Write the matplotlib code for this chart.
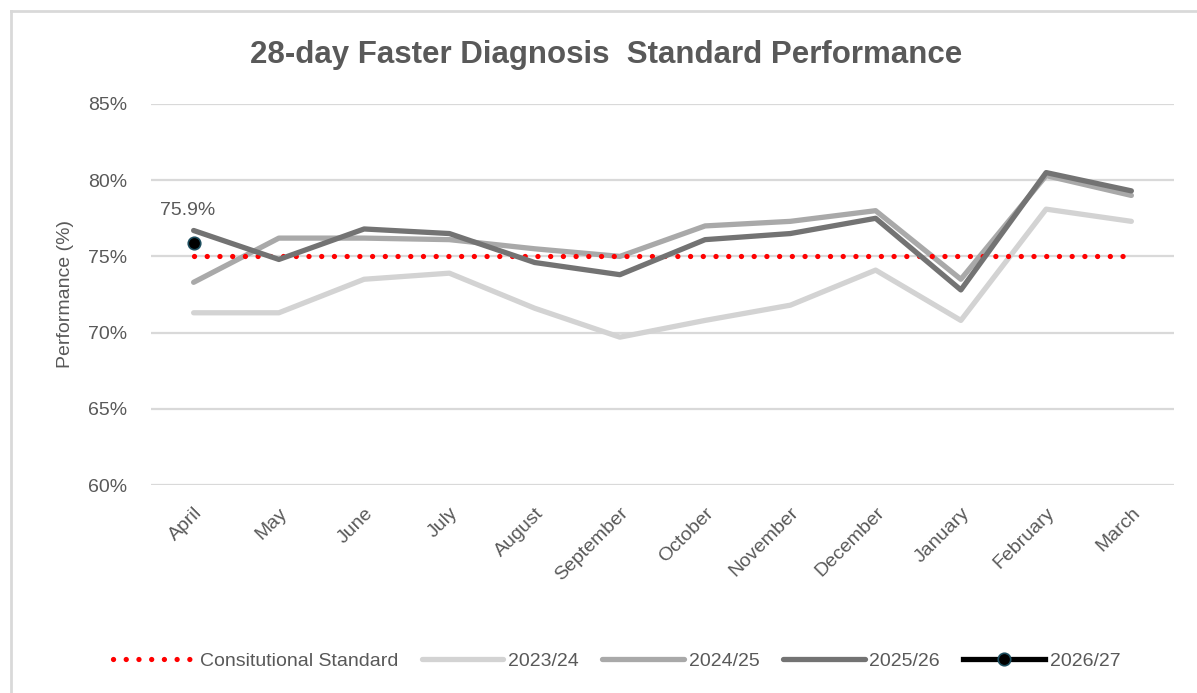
import matplotlib.pyplot as plt
from matplotlib.lines import Line2D
from matplotlib.ticker import FuncFormatter

plt.rcParams["font.family"] = ["Liberation Sans", "DejaVu Sans"]

MONTHS = ["April", "May", "June", "July", "August", "September", "October",
          "November", "December", "January", "February", "March"]

STANDARD = [75] * 12
FY_2023 = [71.3, 71.3, 73.5, 73.9, 71.6, 69.7, 70.8, 71.8, 74.1, 70.8, 78.1, 77.3]
FY_2024 = [73.3, 76.2, 76.2, 76.1, 75.5, 75.0, 77.0, 77.3, 78.0, 73.5, 80.3, 79.0]
FY_2025 = [76.7, 74.8, 76.8, 76.5, 74.6, 73.8, 76.1, 76.5, 77.5, 72.8, 80.5, 79.3]
FY_2026 = [75.9]

TEXT = "#595959"

W, H = 1197, 693
fig = plt.figure(figsize=(W / 100, H / 100), dpi=100)
ax = fig.add_axes([151 / W, 1 - 485 / H, (1174 - 151) / W, (485 - 104) / H])

x = list(range(len(MONTHS)))
ax.plot(x, STANDARD, color="#ff0000", lw=3.8, linestyle=(0, (0.01, 2.4)),
        dash_capstyle="round", label="Consitutional Standard", zorder=3)
ax.plot(x, FY_2023, color="#d3d3d3", lw=3.8, solid_capstyle="round",
        solid_joinstyle="round", label="2023/24", zorder=2)
ax.plot(x, FY_2024, color="#a9a9a9", lw=3.8, solid_capstyle="round",
        solid_joinstyle="round", label="2024/25", zorder=2)
ax.plot(x, FY_2025, color="#737373", lw=3.8, solid_capstyle="round",
        solid_joinstyle="round", label="2025/26", zorder=4)
ax.plot(x[:len(FY_2026)], FY_2026, color="black", lw=3.8, marker="o", ms=9,
        markerfacecolor="black", markeredgecolor="#1d4e5f", markeredgewidth=1.2,
        label="2026/27", zorder=5)
ax.annotate(f"{FY_2026[0]:.1f}%", (0, FY_2026[0]), xytext=(-0.39, 78.0),
            textcoords="data", ha="left", va="center", fontsize=14, color=TEXT)

ax.set_xlim(-0.5, 11.5)
ax.set_ylim(60, 85)
ax.set_yticks(range(60, 86, 5))
ax.yaxis.set_major_formatter(FuncFormatter(lambda v, _: f"{v:.0f}%"))
ax.set_xticks(x)
ax.set_xticklabels(MONTHS, rotation=45, ha="right", rotation_mode="anchor")
ax.tick_params(axis="both", length=0, labelsize=14, colors=TEXT)
ax.tick_params(axis="x", pad=14)
ax.tick_params(axis="y", pad=17)
ax.grid(axis="y", color="#d9d9d9", lw=1.6)
ax.set_axisbelow(True)
for s in ax.spines.values():
    s.set_visible(False)
ax.set_ylabel("Performance (%)", fontsize=14, color=TEXT, labelpad=10)

fig.text(606 / W, 1 - 55 / H, "28-day Faster Diagnosis  Standard Performance",
         ha="center", va="center", fontsize=22.5, fontweight="bold", color=TEXT)

leg = fig.legend(loc="center", bbox_to_anchor=(617 / W, 1 - 661 / H), ncol=5,
                 frameon=False, fontsize=14, handlelength=4.2,
                 columnspacing=1.2, handletextpad=0.25)
for t in leg.get_texts():
    t.set_color(TEXT)

# light frame round the chart area
fig.add_artist(Line2D([11 / W, 11 / W], [1 - 11 / H, 0], transform=fig.transFigure,
                      color="#d9d9d9", lw=2))
fig.add_artist(Line2D([11 / W, 1], [1 - 11 / H, 1 - 11 / H], transform=fig.transFigure,
                      color="#d9d9d9", lw=2))

fig.savefig("out.png", dpi=100)
